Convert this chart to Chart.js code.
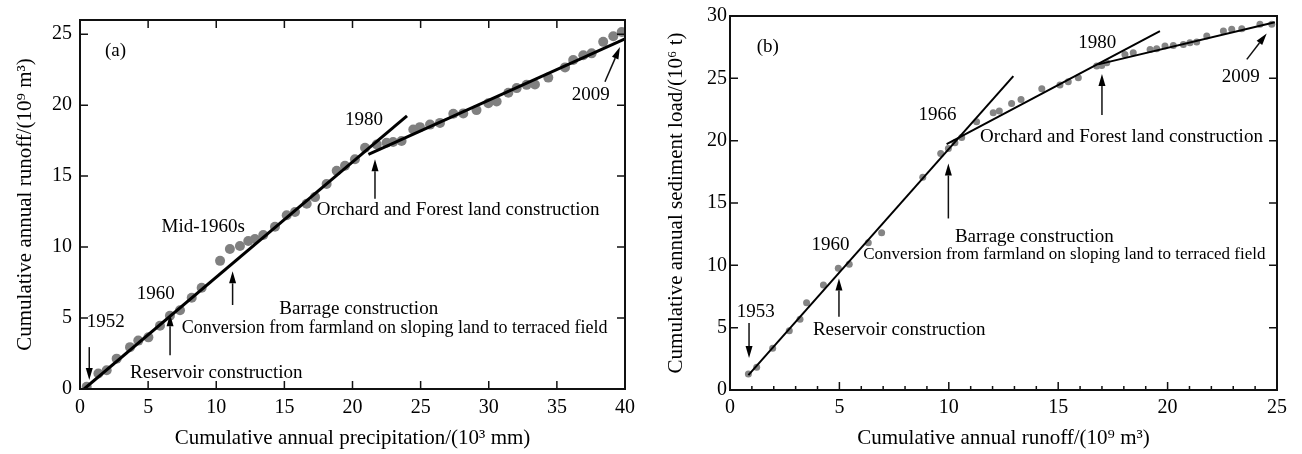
<!DOCTYPE html>
<html>
<head>
<meta charset="utf-8">
<script src="https://cdn.jsdelivr.net/npm/chart.js@4.4.1/dist/chart.umd.min.js"></script>
<style>
html, body { margin: 0; padding: 0; background: #fff; }
#wrap { position: relative; width: 1302px; height: 454px; }
canvas { position: absolute; top: 0; }
</style>
</head>
<body>
<div id="wrap">
  <canvas id="ca" width="651" height="454" style="left:0"></canvas>
  <canvas id="cb" width="651" height="454" style="left:651px"></canvas>
</div>
<script>
// (a) cumulative precipitation (10^3 mm) vs cumulative runoff (10^9 m3), 1952-2009
const precipA = [0.49, 1.35, 1.96, 2.69, 3.67, 4.28, 5.02, 5.87, 6.6, 7.34, 8.2, 8.93,
  10.28, 11.0, 11.74, 12.35, 12.84, 13.45, 14.31, 15.17, 15.78, 16.64, 17.25, 18.1, 18.84,
  19.45, 20.18, 20.92, 21.78, 22.5, 22.98, 23.6, 24.46, 24.95, 25.69, 26.42, 27.4, 28.13,
  29.1, 29.97, 30.58, 31.44, 32.05, 32.78, 33.39, 34.37, 35.6, 36.2, 36.94, 37.55, 38.4,
  39.14, 39.76];
const runoffA = [0.16, 1.09, 1.32, 2.14, 2.95, 3.41, 3.64, 4.46, 5.16, 5.55, 6.43, 7.13,
  9.03, 9.87, 10.08, 10.43, 10.57, 10.85, 11.43, 12.24, 12.47, 13.05, 13.52, 14.45, 15.38,
  15.73, 16.19, 17.0, 17.23, 17.35, 17.4, 17.47, 18.28, 18.45, 18.63, 18.75, 19.4, 19.42,
  19.65, 20.14, 20.26, 20.88, 21.2, 21.43, 21.45, 21.94, 22.66, 23.18, 23.52, 23.65, 24.46,
  24.86, 25.15];
const fitA1 = [[0.3, 0], [24, 19.25]];
const fitA2 = [[21.17, 16.54], [40, 24.67]];

// (b) cumulative runoff (10^9 m3) vs cumulative sediment load (10^6 t), 1953-2009
const runoffB = [0.84, 1.22, 1.95, 2.71, 3.2, 3.5, 4.27, 4.95, 5.45, 6.32, 6.93, 8.81,
  9.63, 9.98, 10.28, 10.59, 11.27, 12.03, 12.31, 12.87, 13.3, 14.25, 15.08, 15.46, 15.92,
  16.76, 16.99, 17.22, 18.05, 18.43, 19.2, 19.5, 19.88, 20.26, 20.72, 21.02, 21.33, 21.79,
  22.55, 22.93, 23.39, 24.22, 24.76];
const sedimentB = [1.28, 1.82, 3.34, 4.76, 5.67, 7.0, 8.42, 9.76, 10.08, 11.81, 12.62, 17.06,
  18.98, 19.38, 19.83, 20.26, 21.52, 22.24, 22.37, 22.99, 23.31, 24.17, 24.46, 24.73, 25.05,
  25.98, 26.03, 26.25, 26.92, 27.05, 27.32, 27.37, 27.59, 27.64, 27.72, 27.85, 27.91, 28.39,
  28.79, 28.93, 28.97, 29.33, 29.33];
const fitB1 = [[0.84, 1.2], [12.95, 25.18]];
const fitB2 = [[9.9, 19.73], [19.65, 28.79]];
const fitB3 = [[16.83, 26.12], [24.9, 29.5]];

// text notes and arrows, in data units
const notesA = [
  ['(a)', 1.83, 23.48, 19], ['Mid-1960s', 5.99, 11.08, 19], ['1960', 4.16, 6.32, 19],
  ['1952', 0.49, 4.34, 19], ['Reservoir construction', 3.67, 0.74, 19],
  ['Barrage construction', 14.63, 5.27, 19],
  ['Conversion from farmland on sloping land to terraced field', 7.46, 3.92, 18],
  ['1980', 19.45, 18.63, 19], ['Orchard and Forest land construction', 17.37, 12.24, 19],
  ['2009', 36.09, 20.33, 19]
];
const arrowsA = [[0.68, 2.95, 0.68, 0.63], [6.61, 2.37, 6.61, 5.27], [11.2, 5.92, 11.2, 8.29],
  [21.65, 13.4, 21.65, 16.19], [38.53, 21.65, 39.63, 24.09]];
const notesB = [
  ['(b)', 1.22, 27.13, 19], ['1966', 8.61, 21.65, 19],
  ['Orchard and Forest land construction', 11.43, 19.91, 19], ['1980', 15.92, 27.4, 19],
  ['2009', 22.47, 24.72, 19], ['Barrage construction', 10.28, 11.89, 19],
  ['Conversion from farmland on sloping land to terraced field', 6.09, 10.48, 17],
  ['1960', 3.73, 11.23, 19], ['Reservoir construction', 3.79, 4.41, 19], ['1953', 0.31, 5.88, 19]
];
const arrowsB = [[0.87, 5.37, 0.87, 2.57], [4.98, 5.88, 4.98, 8.95], [9.98, 13.76, 9.98, 18.17],
  [17.0, 22.05, 17.0, 25.34], [23.62, 26.52, 24.53, 28.6]];

const SERIF = "'Liberation Serif', 'Times New Roman', serif";
Chart.defaults.font.family = SERIF;
Chart.defaults.color = '#000';

function pts(xs, ys) { return xs.map((v, i) => ({x: v, y: ys[i]})); }
function seg(p) { return p.map(d => ({x: d[0], y: d[1]})); }

function makeDecor(notes, arrows, topTicks) {
  return {
    id: 'decor',
    afterDraw(chart) {
      const {ctx, chartArea: a} = chart;
      const x = chart.scales.x, y = chart.scales.y;
      ctx.save();
      ctx.strokeStyle = '#111';
      ctx.lineWidth = 2;
      ctx.strokeRect(a.left, a.top, a.right - a.left, a.bottom - a.top);
      ctx.lineWidth = 1.5;
      ctx.beginPath();
      x.ticks.forEach(t => {
        const px = x.getPixelForValue(t.value);
        const len = t.value % 5 === 0 ? 8 : 4;
        ctx.moveTo(px, a.bottom); ctx.lineTo(px, a.bottom - len);
        if (topTicks) { ctx.moveTo(px, a.top); ctx.lineTo(px, a.top + len); }
      });
      y.ticks.forEach(t => {
        const py = y.getPixelForValue(t.value);
        ctx.moveTo(a.left, py); ctx.lineTo(a.left + 8, py);
        ctx.moveTo(a.right, py); ctx.lineTo(a.right - 8, py);
      });
      ctx.stroke();

      ctx.fillStyle = '#000';
      ctx.textAlign = 'left';
      ctx.textBaseline = 'alphabetic';
      notes.forEach(n => {
        ctx.font = n[3] + 'px ' + SERIF;
        ctx.fillText(n[0], x.getPixelForValue(n[1]), y.getPixelForValue(n[2]));
      });

      ctx.lineWidth = 1.5;
      arrows.forEach(r => {
        const x0 = x.getPixelForValue(r[0]), y0 = y.getPixelForValue(r[1]);
        const x1 = x.getPixelForValue(r[2]), y1 = y.getPixelForValue(r[3]);
        const ang = Math.atan2(y1 - y0, x1 - x0);
        const hl = 12, hw = 3.5;
        const bx = x1 - hl * Math.cos(ang), by = y1 - hl * Math.sin(ang);
        ctx.beginPath();
        ctx.moveTo(x0, y0); ctx.lineTo(bx, by);
        ctx.stroke();
        ctx.beginPath();
        ctx.moveTo(x1, y1);
        ctx.lineTo(bx + hw * Math.sin(ang), by - hw * Math.cos(ang));
        ctx.lineTo(bx - hw * Math.sin(ang), by + hw * Math.cos(ang));
        ctx.closePath();
        ctx.fill();
      });
      ctx.restore();
    }
  };
}

function lineSet(p, w) {
  return {data: seg(p), showLine: true, borderColor: '#000', borderWidth: w, pointRadius: 0};
}

function axis(min, max, step, title, sizeKey, size, tickPad, titlePad) {
  return {
    type: 'linear', min: min, max: max,
    grid: {display: false, drawTicks: false}, border: {display: false},
    ticks: {stepSize: step, includeBounds: false, autoSkip: false, maxRotation: 0,
      padding: tickPad, font: {size: 20}, color: '#000'},
    title: {display: true, text: title, font: {size: 21}, color: '#000', padding: titlePad},
    afterFit(s) { s[sizeKey] = size; }
  };
}

new Chart(document.getElementById('ca'), {
  type: 'scatter',
  data: {datasets: [
    lineSet(fitA1, 3), lineSet(fitA2, 3),
    {data: pts(precipA, runoffA), pointRadius: 5, backgroundColor: '#808080', borderWidth: 0}
  ]},
  options: {
    responsive: false, animation: false,
    layout: {padding: {top: 16, right: 26, left: 0, bottom: 0}},
    plugins: {legend: {display: false}, tooltip: {enabled: false}},
    scales: {
      x: axis(0, 40, 5, 'Cumulative annual precipitation/(10³ mm)', 'height', 65, 7, {bottom: 3}),
      y: axis(0, 26, 5, 'Cumulative annual runoff/(10⁹ m³)', 'width', 80, 8, {top: 13})
    }
  },
  plugins: [makeDecor(notesA, arrowsA, true)]
});

const xB = axis(0, 25, 1, 'Cumulative annual runoff/(10⁹ m³)', 'height', 64, 6, {bottom: 3});
xB.ticks.callback = v => (v % 5 === 0 ? String(v) : '');

new Chart(document.getElementById('cb'), {
  type: 'scatter',
  data: {datasets: [
    lineSet(fitB1, 2), lineSet(fitB2, 2), lineSet(fitB3, 2),
    {data: pts(runoffB, sedimentB), pointRadius: 3.5, backgroundColor: '#858585', borderWidth: 0}
  ]},
  options: {
    responsive: false, animation: false,
    layout: {padding: {top: 16, right: 25, left: 0, bottom: 0}},
    plugins: {legend: {display: false}, tooltip: {enabled: false}},
    scales: {
      x: xB,
      y: axis(0, 30, 5, 'Cumulative annual sediment load/(10⁶ t)', 'width', 79, 3, {top: 13})
    }
  },
  plugins: [makeDecor(notesB, arrowsB, false)]
});
</script>
</body>
</html>
